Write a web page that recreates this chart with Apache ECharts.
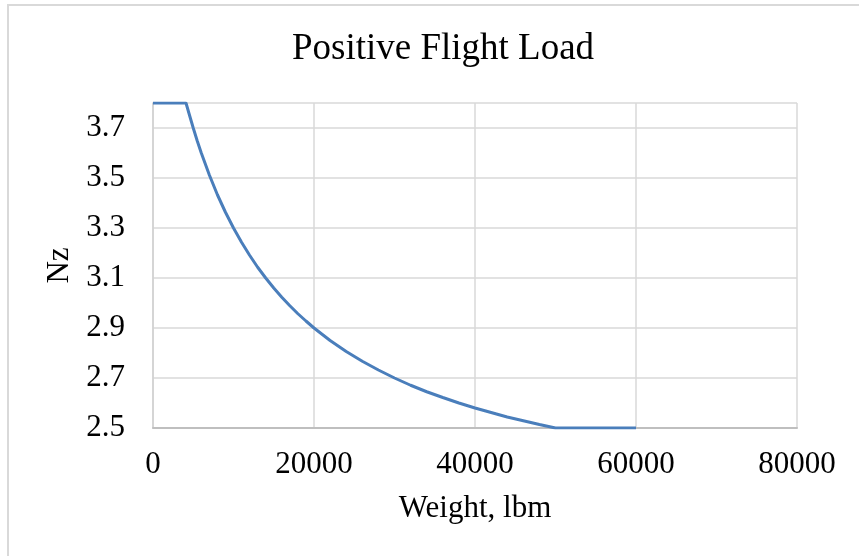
<!DOCTYPE html>
<html><head><meta charset="utf-8">
<script src="https://cdn.jsdelivr.net/npm/echarts@6/dist/echarts.min.js"></script>
<style>
html,body{margin:0;padding:0;background:#fff;}
#frame{position:absolute;left:7px;top:4px;width:900px;height:600px;border-left:2px solid #d9d9d9;border-top:2px solid #d9d9d9;box-sizing:border-box;}
#c{position:absolute;left:0;top:0;width:859px;height:556px;}
</style></head>
<body><div id="frame"></div><div id="c"></div>
<script>
const titleText = 'Positive Flight Load';
const xName = 'Weight, lbm';
const yName = 'Nz';
const weights = [0, 4100, 4500, 5000, 5500, 6000, 7000, 8000, 9000, 10000, 11000, 12000, 13000, 14000, 15000, 16000, 17000, 18000, 19000, 20000, 22000, 24000, 26000, 28000, 30000, 32000, 34000, 36000, 38000, 40000, 42000, 44000, 46000, 48000, 50000, 60000];
const nz = [3.8, 3.8, 3.755, 3.7, 3.648, 3.6, 3.512, 3.433, 3.363, 3.3, 3.243, 3.191, 3.143, 3.1, 3.06, 3.023, 2.989, 2.957, 2.928, 2.9, 2.85, 2.806, 2.767, 2.732, 2.7, 2.671, 2.645, 2.622, 2.6, 2.58, 2.562, 2.544, 2.529, 2.514, 2.5, 2.5];
const xTicks = [0, 20000, 40000, 60000, 80000];
const yTicks = [2.5, 2.7, 2.9, 3.1, 3.3, 3.5, 3.7];

const font = '"Liberation Serif","Times New Roman",serif';
const chart = echarts.init(document.getElementById('c'));
chart.setOption({
  animation: false,
  backgroundColor: 'transparent',
  title: {text: titleText, left: 438, textAlign: 'center', top: 26, textStyle: {fontFamily: font, fontSize: 37, fontWeight: 'normal', color: '#000'}},
  grid: {left: 153, right: 62, top: 103, bottom: 128, containLabel: false},
  xAxis: {
    type: 'value', min: 0, max: 80000, interval: 20000,
    name: xName, nameLocation: 'middle', nameGap: 65,
    nameTextStyle: {fontFamily: font, fontSize: 31, color: '#000'},
    axisLine: {show: true, onZero: false, lineStyle: {color: '#bfbfbf', width: 2}}, axisTick: {show: false},
    axisLabel: {fontFamily: font, fontSize: 31, color: '#000', margin: 21,
      formatter: v => xTicks.includes(v) ? String(v) : ''},
    splitLine: {show: true, lineStyle: {color: '#d9d9d9', width: 1.5}}
  },
  yAxis: {
    type: 'value', min: 2.5, max: 3.8, interval: 0.2,
    name: yName, nameLocation: 'middle', nameGap: 70, nameRotate: 90,
    nameTextStyle: {fontFamily: font, fontSize: 31, color: '#000'},
    axisLine: {show: true, lineStyle: {color: '#d0d0d0', width: 1.5}}, axisTick: {show: false},
    axisLabel: {fontFamily: font, fontSize: 31, color: '#000', margin: 28, showMaxLabel: false,
      formatter: v => yTicks.some(t => Math.abs(t - v) < 1e-6) ? v.toFixed(1) : ''},
    splitLine: {show: true, lineStyle: {color: '#d9d9d9', width: 1.5}}
  },
  series: [{
    type: 'line', showSymbol: false, smooth: false, z: 3,
    data: weights.map((w, i) => [w, nz[i]]),
    lineStyle: {color: '#4a7ebb', width: 3}
  }]
});
</script></body></html>
